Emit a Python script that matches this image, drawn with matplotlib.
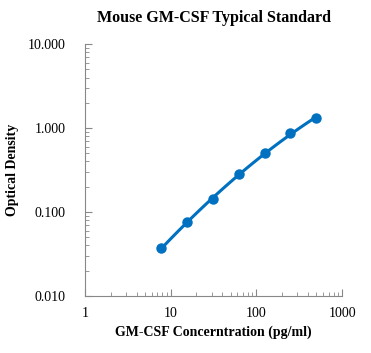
import matplotlib.pyplot as plt
import numpy as np
from matplotlib.ticker import FixedLocator, FuncFormatter, LogLocator, NullFormatter

plt.rcParams['font.family'] = ['Liberation Serif', 'DejaVu Serif']

conc = [7.8, 15.6, 31.25, 62.5, 125, 250, 500]
od = [0.037, 0.077, 0.142, 0.280, 0.500, 0.865, 1.33]

# smooth trend line fitted in log-log space
c = np.polyfit(np.log10(conc), np.log10(od), 2)
xf = np.logspace(np.log10(conc[0]), np.log10(conc[-1]), 50)
yf = 10 ** np.polyval(c, np.log10(xf))

fig = plt.figure(figsize=(3.71, 3.53), dpi=100)
ax = fig.add_axes([0.229, 0.1615, 0.693, 0.7135])

blue = '#0070C0'
ax.plot(xf, yf, color=blue, lw=2.2)
ax.plot(conc, od, 'o', color=blue, ms=6.5)

ax.set_xscale('log')
ax.set_yscale('log')
ax.set_xlim(1, 1000)
ax.set_ylim(0.01, 10)

ax.xaxis.set_major_locator(FixedLocator([1, 10, 100, 1000]))
ax.yaxis.set_major_locator(FixedLocator([0.01, 0.1, 1, 10]))
ax.xaxis.set_minor_locator(LogLocator(base=10, subs=np.arange(2, 10)))
ax.yaxis.set_minor_locator(LogLocator(base=10, subs=np.arange(2, 10)))
ax.xaxis.set_minor_formatter(NullFormatter())
ax.yaxis.set_minor_formatter(NullFormatter())
ax.xaxis.set_major_formatter(FuncFormatter(lambda v, p: '%d' % v))
ax.yaxis.set_major_formatter(FuncFormatter(lambda v, p: '%.3f' % v))

for s in ['top', 'right']:
    ax.spines[s].set_visible(False)
for s in ['left', 'bottom']:
    ax.spines[s].set_color('#888888')
    ax.spines[s].set_linewidth(0.8)

ax.tick_params(which='major', direction='in', length=5, color='#888888',
               labelsize=10, pad=8)
ax.tick_params(which='minor', direction='in', length=3, color='#888888')
ax.tick_params(axis='y', pad=14)

ax.set_title('Mouse GM-CSF Typical Standard', fontsize=11.5, fontweight='bold', pad=16)
ax.set_xlabel('GM-CSF Concerntration (pg/ml)', fontsize=10, fontweight='bold', labelpad=4)
ax.set_ylabel('Optical Density', fontsize=10, fontweight='bold', labelpad=6)

fig.savefig('out.png', dpi=100)
